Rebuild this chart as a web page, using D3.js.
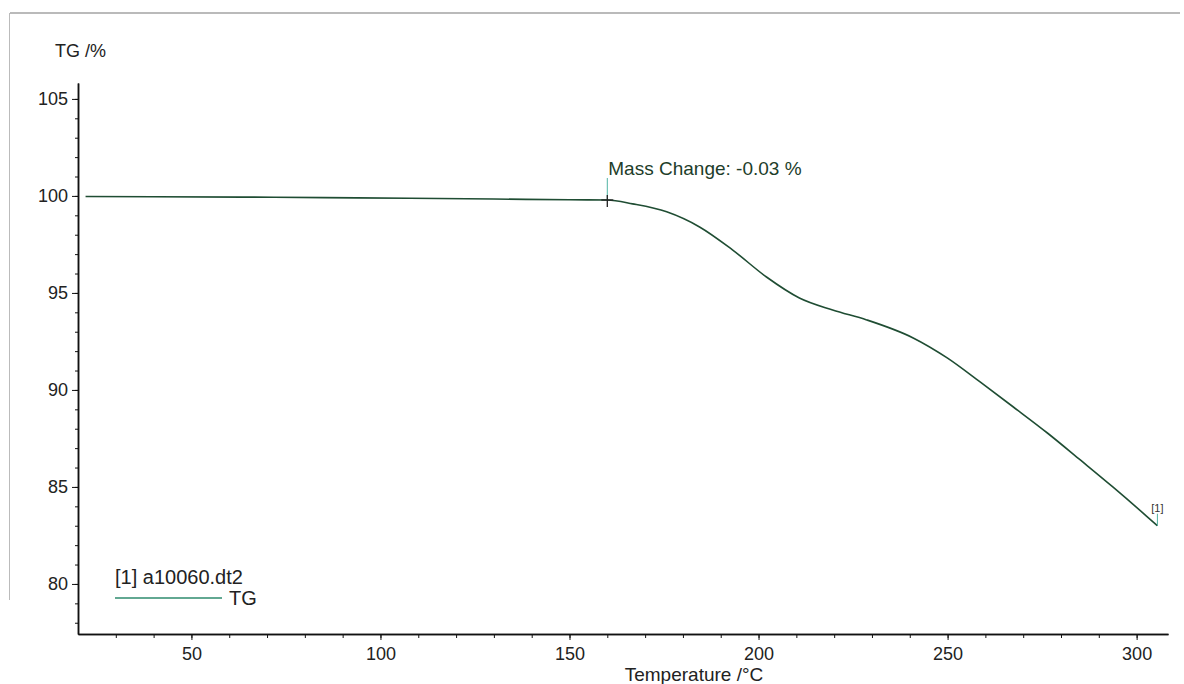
<!DOCTYPE html>
<html>
<head>
<meta charset="utf-8">
<script src="https://cdn.jsdelivr.net/npm/d3@7"></script>
<style>
  body { margin: 0; background: #fff; }
  svg { font-family: "Liberation Sans", Arial, sans-serif; }
  .axis path, .axis line { stroke: #111; }
  .axis text { fill: #222; font-size: 18px; }
</style>
</head>
<body>
<div class="chart"></div>
<script>
// TG curve (temperature in °C, mass in %)
const temps = [22, 40, 63.5, 85, 107.7, 130, 150, 160, 166.7, 175.7, 184.4, 193.1, 202.1,
  210.8, 219.6, 228.6, 240.9, 249.9, 258.6, 267.4, 276.4, 285.1, 293.7, 302.6, 305.5];
const tg = [99.97, 99.96, 99.94, 99.91, 99.88, 99.84, 99.8, 99.79, 99.59, 99.18, 98.4, 97.22, 95.82,
  94.74, 94.12, 93.61, 92.68, 91.65, 90.41, 89.12, 87.78, 86.39, 85.0, 83.5, 83.0];

const xTicks = [50, 100, 150, 200, 250, 300];
const yTicks = [80, 85, 90, 95, 100, 105];
const xLabel = "Temperature /°C";
const yLabel = "TG /%";
const legendFile = "[1] a10060.dt2";
const legendSeries = "TG";
const markT = 160, markText = "Mass Change: -0.03 %";

let width = 1184, height = 684;
let margin = { top: 83, right: 16, bottom: 50, left: 78 };

let svg = d3.select(".chart").append("svg")
  .attr("width", width)
  .attr("height", height);

// scanned page frame
svg.append("line").attr("x1", 10).attr("y1", 13).attr("x2", 1180).attr("y2", 13)
  .attr("stroke", "#777").attr("stroke-width", 1.2);
svg.append("line").attr("x1", 9.5).attr("y1", 13).attr("x2", 9.5).attr("y2", 600)
  .attr("stroke", "#bbb").attr("stroke-width", 1);

let x = d3.scaleLinear().domain([20, 308.3]).range([margin.left, width - margin.right]);
let y = d3.scaleLinear().domain([77.42, 105.82]).range([height - margin.bottom, margin.top]);

// minor ticks first, then major ones on top
svg.append("g").attr("class", "axis")
  .attr("transform", "translate(0," + (height - margin.bottom) + ")")
  .call(d3.axisBottom(x).tickValues(d3.range(30, 310, 10)).tickSize(4).tickFormat("").tickSizeOuter(0));
svg.append("g").attr("class", "axis")
  .attr("transform", "translate(0," + (height - margin.bottom) + ")")
  .call(d3.axisBottom(x).tickValues(xTicks).tickSize(6).tickPadding(7).tickSizeOuter(0));

svg.append("g").attr("class", "axis")
  .attr("transform", "translate(" + margin.left + ",0)")
  .call(d3.axisLeft(y).tickValues(d3.range(78, 106, 1)).tickSize(3).tickFormat("").tickSizeOuter(0));
svg.append("g").attr("class", "axis")
  .attr("transform", "translate(" + margin.left + ",0)")
  .call(d3.axisLeft(y).tickValues(yTicks).tickSize(6).tickPadding(4).tickSizeOuter(0));

svg.selectAll(".axis path").attr("stroke-width", 1.5);

svg.append("text").attr("x", 55).attr("y", 57).attr("font-size", 18).attr("fill", "#222").text(yLabel);
svg.append("text").attr("x", 694).attr("y", 681).attr("text-anchor", "middle")
  .attr("font-size", 19).attr("fill", "#222").text(xLabel);

// curve
let points = temps.map((t, i) => [t, tg[i]]);
let line = d3.line().x((d) => x(d[0])).y((d) => y(d[1])).curve(d3.curveMonotoneX);
svg.append("path").datum(points)
  .attr("fill", "none")
  .attr("stroke", "#1f4d33")
  .attr("stroke-width", 1.6)
  .attr("d", line);

// mass change marker
let mx = x(markT), my = y(tg[temps.indexOf(markT)]);
svg.append("line").attr("x1", mx).attr("x2", mx).attr("y1", my - 22).attr("y2", my)
  .attr("stroke", "#4fb3a3").attr("stroke-width", 1);
svg.append("line").attr("x1", mx - 6).attr("x2", mx + 6).attr("y1", my).attr("y2", my)
  .attr("stroke", "#222").attr("stroke-width", 1.3);
svg.append("line").attr("x1", mx).attr("x2", mx).attr("y1", my - 5).attr("y2", my + 7)
  .attr("stroke", "#222").attr("stroke-width", 1.3);
svg.append("text").attr("x", mx + 1).attr("y", my - 25).attr("font-size", 19)
  .attr("fill", "#1d3d2a").text(markText);

// end-of-curve label
let ex = x(temps[temps.length - 1]), ey = y(tg[tg.length - 1]);
svg.append("line").attr("x1", ex).attr("x2", ex).attr("y1", ey - 12).attr("y2", ey)
  .attr("stroke", "#4fb3a3").attr("stroke-width", 1);
svg.append("text").attr("x", ex).attr("y", ey - 14).attr("text-anchor", "middle")
  .attr("font-size", 11).attr("fill", "#333").text("[1]");

// legend
svg.append("text").attr("x", 115).attr("y", 584).attr("font-size", 20).attr("fill", "#222").text(legendFile);
svg.append("line").attr("x1", 115).attr("x2", 222).attr("y1", 598).attr("y2", 598)
  .attr("stroke", "#2e8b6e").attr("stroke-width", 1.4);
svg.append("text").attr("x", 229).attr("y", 605).attr("font-size", 20).attr("fill", "#222").text(legendSeries);
</script>
</body>
</html>
